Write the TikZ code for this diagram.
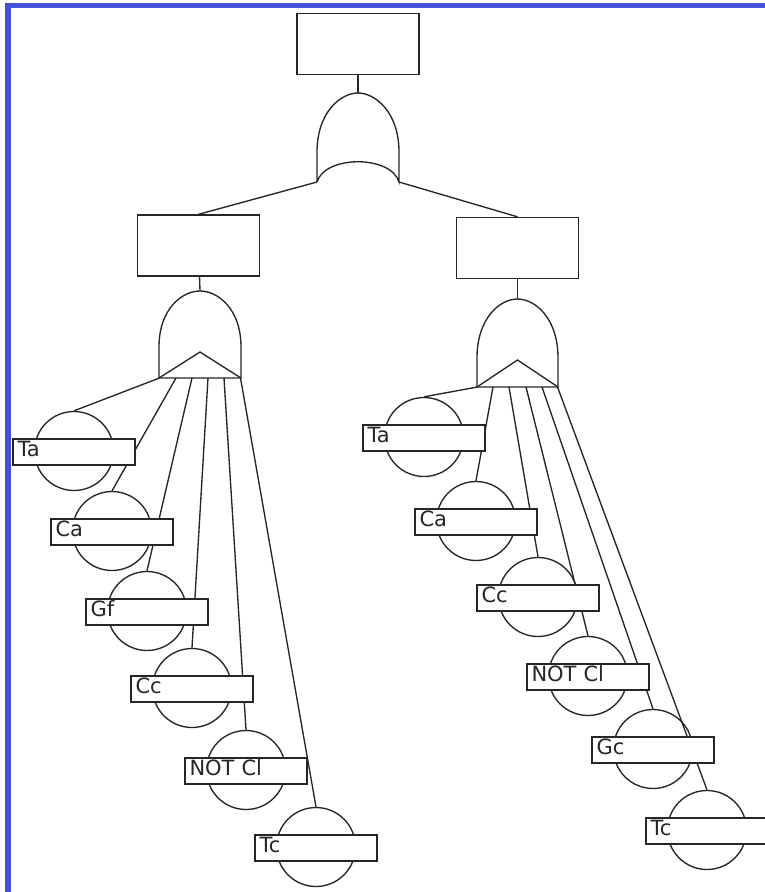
\documentclass[tikz,border=0pt]{standalone}
\usepackage{fontspec}
\setmainfont{DejaVu Sans}

\definecolor{frameblue}{RGB}{68,80,214}

\tikzset{
  evbox/.style={rectangle, draw, minimum width=122pt, minimum height=61pt, inner sep=0pt},
  basicev/.style={circle, draw, fill=white, minimum size=79pt, inner sep=0pt},
  evlabel/.style={rectangle, draw, fill=white, text width=113pt, inner xsep=4.5pt, inner ysep=0pt,
    minimum height=26pt, text height=12pt, text depth=3pt, align=left,
    font=\fontsize{21}{22}\selectfont},
}

\begin{document}
\begin{tikzpicture}[x=1pt, y=-1pt, line width=1.35pt, color=black!85]
  \clip (0,0) rectangle (765,892);
  % frame
  \fill[frameblue] (5,3) rectangle (765,8);
  \fill[frameblue] (5,3) rectangle (11,892);

  % events
  \node[evbox] (top) at (358,44) {};
  \node[evbox] (boxL) at (198.5,245.5) {};
  \node[evbox] (boxR) at (517.5,248) {};

  % top OR gate
  \draw (317,182) -- (317,152) .. controls (317,112) and (341,93) .. (358,93)
    .. controls (375,93) and (399,112) .. (399,152) -- (399,182)
    .. controls (391,155) and (325,155) .. (317,182);
  \coordinate (gT) at (358,93);
  \coordinate (gTl) at (317,182);
  \coordinate (gTr) at (399,182);

  % left gate
  \draw (159,378) -- (159,347) .. controls (159,309) and (182,291) .. (200,291)
    .. controls (218,291) and (241,309) .. (241,347) -- (241,378) -- cycle;
  \draw (159,378) -- (200,352) -- (241,378);
  \coordinate (gL) at (200,291);
  \foreach \i/\x in {1/159.5,2/176,3/192,4/208,5/224,6/240.5}
    \coordinate (gL\i) at (\x,378);

  % right gate
  \draw (477,387) -- (477,358) .. controls (477,318) and (500,299) .. (517.5,299)
    .. controls (535,299) and (558,318) .. (558,358) -- (558,387) -- cycle;
  \draw (477,387) -- (517.5,360) -- (558,387);
  \coordinate (gR) at (517.5,299);
  \foreach \i/\x in {1/477.5,2/493,3/509,4/526,5/542,6/557.5}
    \coordinate (gR\i) at (\x,387);

  % basic events, left branch
  \node[basicev] (lTa) at (74,451) {};
  \node[basicev] (lCa) at (112,531) {};
  \node[basicev] (lGf) at (147,611) {};
  \node[basicev] (lCc) at (192,688) {};
  \node[basicev] (lNCl) at (246,770) {};
  \node[basicev] (lTc) at (316,847) {};

  % basic events, right branch
  \node[basicev] (rTa) at (424,437) {};
  \node[basicev] (rCa) at (476,521) {};
  \node[basicev] (rCc) at (538,597) {};
  \node[basicev] (rNCl) at (588,676) {};
  \node[basicev] (rGc) at (653,749) {};
  \node[basicev] (rTc) at (707,830) {};

  % connections
  \draw (top) -- (gT);
  \draw (gTl) -- (boxL.north);
  \draw (gTr) -- (boxR.north);
  \draw (boxL) -- (gL);
  \draw (boxR) -- (gR);

  \draw (gL1) -- (lTa.north);
  \draw (gL2) -- (lCa.north);
  \draw (gL3) -- (lGf.north);
  \draw (gL4) -- (lCc.north);
  \draw (gL5) -- (lNCl.north);
  \draw (gL6) -- (lTc.north);

  \draw (gR1) -- (rTa.north);
  \draw (gR2) -- (rCa.north);
  \draw (gR3) -- (rCc.north);
  \draw (gR4) -- (rNCl.north);
  \draw (gR5) -- (rGc.north);
  \draw (gR6) -- (rTc.north);

  % labels on top
  \node[evlabel] (lTaLbl) at ([yshift=-1pt]lTa.center) {Ta};
  \node[evlabel] (lCaLbl) at ([yshift=-1pt]lCa.center) {Ca};
  \node[evlabel] (lGfLbl) at ([yshift=-1pt]lGf.center) {Gf};
  \node[evlabel] (lCcLbl) at ([yshift=-1pt]lCc.center) {Cc};
  \node[evlabel] (lNClLbl) at ([yshift=-1pt]lNCl.center) {NOT Cl};
  \node[evlabel] (lTcLbl) at ([yshift=-1pt]lTc.center) {Tc};

  \node[evlabel] (rTaLbl) at ([yshift=-1pt]rTa.center) {Ta};
  \node[evlabel] (rCaLbl) at ([yshift=-1pt]rCa.center) {Ca};
  \node[evlabel] (rCcLbl) at ([yshift=-1pt]rCc.center) {Cc};
  \node[evlabel] (rNClLbl) at ([yshift=-1pt]rNCl.center) {NOT Cl};
  \node[evlabel] (rGcLbl) at ([yshift=-1pt]rGc.center) {Gc};
  \node[evlabel] (rTcLbl) at ([yshift=-1pt]rTc.center) {Tc};
\end{tikzpicture}
\end{document}
